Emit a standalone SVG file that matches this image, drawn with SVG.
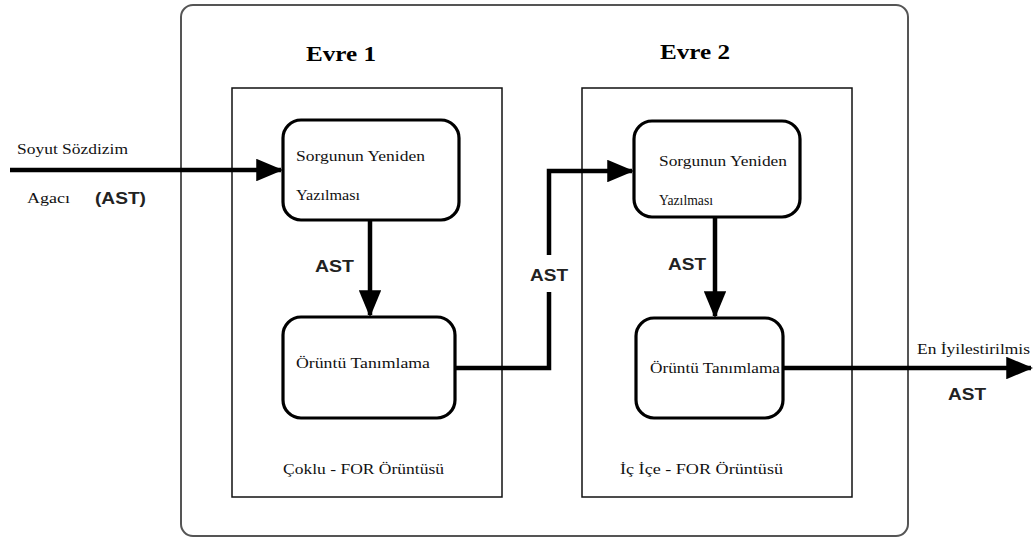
<svg xmlns="http://www.w3.org/2000/svg" width="1035" height="540" viewBox="0 0 1035 540">
  <style>
    .frame { fill: #fff; stroke: #555; stroke-width: 2; }
    .phase { fill: none; stroke: #111; stroke-width: 1.5; }
    .node { fill: #fff; stroke: #000; stroke-width: 3.2; }
    .wire { fill: none; stroke: #000; stroke-width: 4.5; }
    .serif { font-family: "Liberation Serif", "DejaVu Serif", serif; font-size: 15px; fill: #111; }
    .title { font-family: "Liberation Serif", "DejaVu Serif", serif; font-size: 22px; font-weight: bold; fill: #000; }
    .sans { font-family: "Liberation Sans", Arial, sans-serif; font-size: 17px; font-weight: bold; fill: #222; }
  </style>
  <defs>
    <marker id="head" markerWidth="6" markerHeight="5" refX="5.5" refY="2.5" orient="auto" markerUnits="strokeWidth">
      <path d="M0,0 L6,2.5 L0,5 Z" fill="#000"/>
    </marker>
  </defs>

  <rect width="1035" height="540" fill="#fff"/>

  <!-- outer frame and the two phase panels -->
  <g id="frame">
    <rect class="frame" x="181" y="5" width="727" height="531" rx="12"/>
  </g>
  <g id="phase1">
    <rect class="phase" x="232" y="88" width="270" height="409"/>
    <text class="title" x="306" y="61" textLength="70" lengthAdjust="spacingAndGlyphs">Evre 1</text>
    <text class="serif" x="283" y="474" textLength="161" lengthAdjust="spacingAndGlyphs">Çoklu - FOR Örüntüsü</text>
  </g>
  <g id="phase2">
    <rect class="phase" x="582" y="88" width="270" height="409"/>
    <text class="title" x="660" y="59" textLength="70" lengthAdjust="spacingAndGlyphs">Evre 2</text>
    <text class="serif" x="620" y="474" textLength="163" lengthAdjust="spacingAndGlyphs">İç İçe - FOR Örüntüsü</text>
  </g>

  <!-- processing steps -->
  <g id="rewrite1">
    <rect class="node" x="283" y="120" width="176" height="100" rx="18"/>
    <text class="serif" x="296" y="161" textLength="129" lengthAdjust="spacingAndGlyphs">Sorgunun Yeniden</text>
    <text class="serif" x="296" y="200" textLength="64" lengthAdjust="spacingAndGlyphs">Yazılması</text>
  </g>
  <g id="match1">
    <rect class="node" x="283" y="317" width="172" height="101" rx="18"/>
    <text class="serif" x="296" y="368" textLength="134" lengthAdjust="spacingAndGlyphs">Örüntü Tanımlama</text>
  </g>
  <g id="rewrite2">
    <rect class="node" x="634" y="121" width="166" height="96" rx="18"/>
    <text class="serif" x="659" y="166" textLength="128" lengthAdjust="spacingAndGlyphs">Sorgunun Yeniden</text>
    <text class="serif" x="659" y="205" textLength="54" lengthAdjust="spacingAndGlyphs">Yazılması</text>
  </g>
  <g id="match2">
    <rect class="node" x="636" y="318" width="147" height="100" rx="18"/>
    <text class="serif" x="650" y="373" textLength="130" lengthAdjust="spacingAndGlyphs">Örüntü Tanımlama</text>
  </g>

  <!-- connectors -->
  <g id="connectors">
    <path class="wire" d="M10,170 L281,170" marker-end="url(#head)"/>
    <path class="wire" d="M370,220 L370,315" marker-end="url(#head)"/>
    <path class="wire" d="M455,368 L549,368 L549,292"/>
    <path class="wire" d="M549,255 L549,171 L632,171" marker-end="url(#head)"/>
    <path class="wire" d="M715,217 L715,316" marker-end="url(#head)"/>
    <path class="wire" d="M783,368 L1031,368" marker-end="url(#head)"/>
  </g>

  <!-- connector labels -->
  <g id="labels">
    <text class="serif" x="17" y="154" textLength="111" lengthAdjust="spacingAndGlyphs">Soyut Sözdizim</text>
    <text class="serif" x="27" y="203" textLength="43" lengthAdjust="spacingAndGlyphs">Agacı</text>
    <text class="sans" x="95" y="204" textLength="51" lengthAdjust="spacingAndGlyphs">(AST)</text>
    <text class="sans" x="315" y="272" textLength="39" lengthAdjust="spacingAndGlyphs">AST</text>
    <text class="sans" x="530" y="281" textLength="38" lengthAdjust="spacingAndGlyphs">AST</text>
    <text class="sans" x="668" y="270" textLength="38" lengthAdjust="spacingAndGlyphs">AST</text>
    <text class="serif" x="917" y="354" textLength="113" lengthAdjust="spacingAndGlyphs">En İyilestirilmis</text>
    <text class="sans" x="948" y="400" textLength="38" lengthAdjust="spacingAndGlyphs">AST</text>
  </g>
</svg>
